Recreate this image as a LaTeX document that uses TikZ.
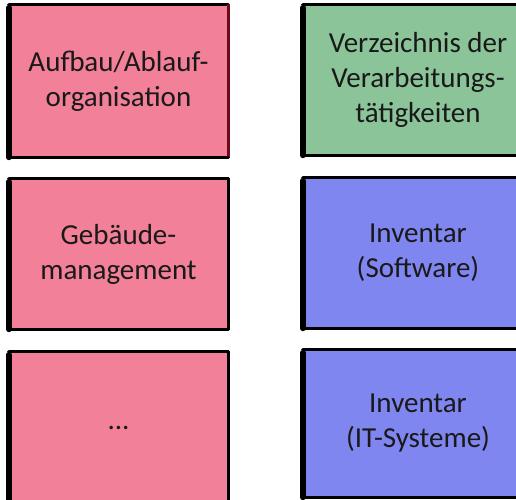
\documentclass[tikz,border=0pt]{standalone}
\usepackage{fontspec}
\setmainfont{Carlito}
\definecolor{pinkfill}{RGB}{242,128,152}
\definecolor{greenfill}{RGB}{140,196,154}
\definecolor{bluefill}{RGB}{128,134,240}
\definecolor{darkred}{RGB}{110,10,30}
\tikzset{
  card/.style={minimum width=#1, inner sep=0pt, align=center, text=black!90, font=\fontsize{29}{35}\selectfont},
  pinkcard/.style={card=219pt, fill=pinkfill},
  greencard/.style={card=230pt, fill=greenfill},
  bluecard/.style={card=230pt, fill=bluefill},
  edge/.style={line width=3.2pt, line cap=round, line join=round},
  leftedge/.style={line width=6pt, line cap=round}
}
\newcommand{\cardborder}[2][black]{%
  \draw[edge] (#2.north west) -- (#2.north east);
  \draw[edge,#1] (#2.north east) -- (#2.south east);
  \draw[edge] (#2.south east) -- (#2.south west);
  \draw[leftedge] ([yshift=-3pt]#2.north west) -- (#2.south west);
}
\begin{document}
\begin{tikzpicture}[x=1pt,y=-1pt]
\useasboundingbox (0,0) rectangle (516,499);
\clip (0,0) rectangle (516,499);
\node[pinkcard, minimum height=152pt] (a) at (118.5,81) {Aufbau/Ablauf-\\organisation};
\node[greencard, minimum height=150pt] (b) at (418,80) {Verzeichnis der\\Verarbeitungs-\\tätigkeiten};
\node[pinkcard, minimum height=150pt] (c) at (118.5,254) {Gebäude-\\management};
\node[bluecard, minimum height=150pt] (d) at (418,253) {Inventar\\(Software)};
\node[pinkcard, minimum height=152pt] (e) at (118.5,428) {...};
\node[bluecard, minimum height=147pt] (f) at (418,423.5) {Inventar\\(IT-Systeme)};
\cardborder[darkred]{a}
\cardborder{b}
\cardborder{c}
\cardborder{d}
\cardborder{e}
\cardborder{f}
\end{tikzpicture}
\end{document}
